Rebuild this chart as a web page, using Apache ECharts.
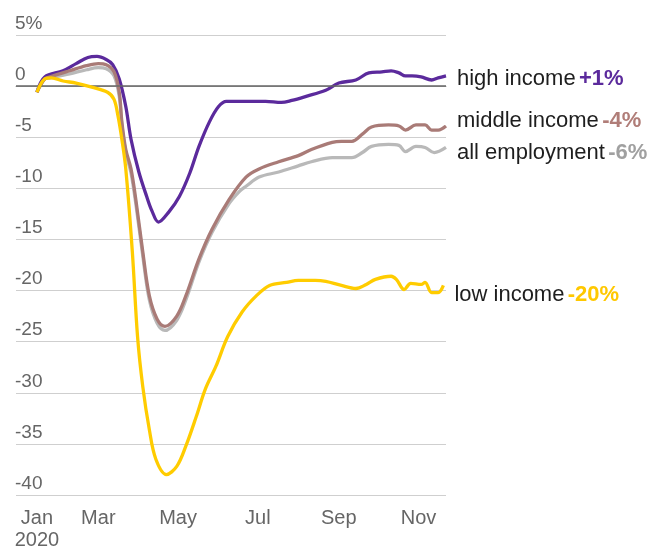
<!DOCTYPE html>
<html><head><meta charset="utf-8">
<script src="https://cdn.jsdelivr.net/npm/echarts@6/dist/echarts.min.js"></script>
<style>html,body{margin:0;padding:0;background:#fff}#c{width:652px;height:551px}</style>
</head><body><div id="c"></div>
<script>
// x = day of year 2020, y = % change in employment vs Jan 2020
const xTickDays = [13, 60, 121, 182, 244, 305];
const xTickLabels = ['Jan\n2020', 'Mar', 'May', 'Jul', 'Sep', 'Nov'];
const yTicks = [5, 0, -5, -10, -15, -20, -25, -30, -35, -40];

const highIncome = [[13,-0.6],[19,0.9],[33,1.5],[43,2.2],[52,2.8],[59,2.9],[66,2.6],[71,2.1],[76,0.7],[81,-2.0],[85,-5.2],[91,-8.4],[97,-10.8],[101,-12.2],[106,-13.3],[114,-12.3],[122,-10.8],[130,-8.5],[137,-5.9],[145,-3.5],[152,-2.0],[158,-1.5],[175,-1.5],[188,-1.5],[200,-1.6],[208,-1.4],[219,-1.0],[234,-0.4],[244,0.3],[257,0.6],[267,1.3],[277,1.4],[284,1.5],[290,1.3],[295,1.0],[300,1.0],[307,0.9],[315,0.6],[320,0.8],[326,1.0]];
const middleIncome = [[13,-0.6],[19,0.7],[23,0.9],[38,1.5],[51,2.0],[60,2.2],[66,2.1],[72,1.4],[76,-0.6],[78,-3.5],[81,-6.2],[85,-8.1],[89,-11.4],[94,-16.2],[99,-20.5],[105,-22.8],[111,-23.5],[120,-22.5],[127,-20.5],[137,-16.9],[147,-14.0],[160,-11.1],[173,-8.9],[183,-8.1],[198,-7.4],[213,-6.8],[223,-6.2],[239,-5.5],[246,-5.4],[254,-5.4],[262,-4.7],[269,-4.0],[282,-3.8],[290,-3.9],[295,-4.3],[303,-3.8],[310,-3.8],[315,-4.3],[320,-4.3],[326,-3.9]];
const allEmployment = [[13,-0.6],[19,0.7],[23,0.8],[38,1.2],[51,1.6],[60,1.8],[66,1.7],[72,1.0],[76,-1.0],[78,-3.8],[81,-6.5],[85,-8.5],[89,-11.8],[94,-16.6],[99,-20.9],[105,-23.2],[111,-23.9],[120,-22.9],[127,-20.9],[137,-17.2],[147,-14.3],[160,-11.5],[168,-10.3],[173,-9.8],[183,-8.9],[198,-8.4],[213,-7.8],[223,-7.4],[239,-7.0],[246,-7.0],[254,-7.0],[262,-6.5],[269,-5.9],[282,-5.7],[290,-5.8],[295,-6.4],[303,-5.9],[310,-6.0],[317,-6.5],[326,-6.0]];
const lowIncome = [[13,-0.6],[19,0.7],[24,0.8],[33,0.5],[43,0.3],[55,-0.1],[67,-0.6],[72,-1.3],[75,-2.9],[78,-5.2],[81,-8.1],[86,-16.2],[90,-24.5],[94,-29.4],[99,-33.6],[104,-36.5],[112,-38.0],[120,-37.2],[127,-35.2],[135,-32.3],[142,-29.6],[150,-27.4],[159,-24.5],[170,-22.1],[181,-20.5],[191,-19.5],[204,-19.2],[213,-19.0],[226,-19.0],[234,-19.1],[246,-19.5],[257,-19.8],[265,-19.4],[272,-18.9],[284,-18.6],[288,-18.9],[294,-19.9],[299,-19.3],[307,-19.4],[310,-19.2],[315,-20.2],[320,-20.2],[324,-19.5]];

const seriesNames = ['all employment', 'high income', 'middle income', 'low income'];
const endValues = ['-6%', '+1%', '-4%', '-20%'];

const FONT = '"Liberation Sans", Arial, sans-serif';
const colors = ['#b9b9b9', '#5b2a9c', '#a97b77', '#ffcc00'];
const valColors = ['#a0a0a0', '#5b2a9c', '#b07d78', '#ffc800'];
const labelOffsets = [[0, 5], [0, 3], [0, -5], [0, 9]];
const datasets = [allEmployment, highIncome, middleIncome, lowIncome];

const chart = echarts.init(document.getElementById('c'), null, {renderer: 'canvas'});
const series = datasets.map((d, i) => ({
  type: 'line',
  name: seriesNames[i],
  data: d,
  smooth: 0.35,
  showSymbol: false,
  symbol: 'none',
  lineStyle: {color: colors[i], width: 3.3},
  z: 2 + i,
  endLabel: {
    show: true,
    distance: 11,
    offset: labelOffsets[i],
    formatter: () => '{n|' + seriesNames[i] + '} {v|' + endValues[i] + '}',
    rich: {
      n: {fontFamily: FONT, fontSize: 22, color: '#1e1e1e'},
      v: {fontFamily: FONT, fontSize: 22, fontWeight: 'bold', color: valColors[i]}
    }
  },
  markLine: i === 0 ? {
    silent: true, symbol: ['none', 'none'], label: {show: false},
    lineStyle: {color: '#666', width: 1.5, type: 'solid'},
    data: [{yAxis: 0}], animation: false
  } : undefined
}));

chart.setOption({
  animation: false,
  backgroundColor: '#fff',
  grid: {left: 16, right: 206, top: 35, bottom: 56},
  xAxis: {
    type: 'value', min: -3, max: 326,
    splitLine: {show: false},
    axisTick: {show: false},
    axisLine: {show: true, lineStyle: {color: '#aaa', width: 1}},
    axisLabel: {
      customValues: xTickDays,
      formatter: v => xTickLabels[xTickDays.indexOf(v)],
      fontFamily: FONT, fontSize: 20, color: '#666', lineHeight: 22, margin: 12
    }
  },
  yAxis: {
    type: 'value', min: -40, max: 5, interval: 5,
    axisLine: {show: false}, axisTick: {show: false},
    splitLine: {lineStyle: {color: '#cfcfcf', width: 1}},
    axisLabel: {
      inside: true, margin: -1,
      verticalAlign: 'bottom', padding: [0, 0, 2, 0],
      formatter: v => v === 5 ? '5%' : String(v),
      fontFamily: FONT, fontSize: 19, color: '#666'
    }
  },
  series: series
});
</script>
</body></html>
